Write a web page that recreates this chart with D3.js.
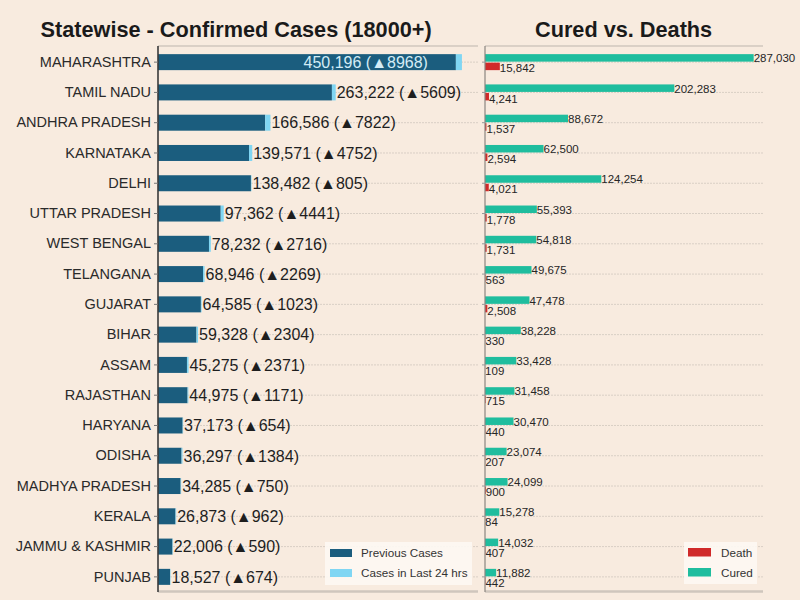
<!DOCTYPE html>
<html>
<head>
<meta charset="utf-8">
<script src="https://cdn.jsdelivr.net/npm/d3@7"></script>
<style>
  html, body { margin: 0; padding: 0; background: #f8ebdf; }
  svg { display: block; font-family: "Liberation Sans", Arial, sans-serif; }
</style>
</head>
<body>
<svg id="chart" width="800" height="600"></svg>
<script>
const states = ["MAHARASHTRA","TAMIL NADU","ANDHRA PRADESH","KARNATAKA","DELHI","UTTAR PRADESH","WEST BENGAL","TELANGANA","GUJARAT","BIHAR","ASSAM","RAJASTHAN","HARYANA","ODISHA","MADHYA PRADESH","KERALA","JAMMU & KASHMIR","PUNJAB"];
const totalCases = [450196,263222,166586,139571,138482,97362,78232,68946,64585,59328,45275,44975,37173,36297,34285,26873,22006,18527];
const newCases = [8968,5609,7822,4752,805,4441,2716,2269,1023,2304,2371,1171,654,1384,750,962,590,674];
const cured = [287030,202283,88672,62500,124254,55393,54818,49675,47478,38228,33428,31458,30470,23074,24099,15278,14032,11882];
const deaths = [15842,4241,1537,2594,4021,1778,1731,563,2508,330,109,715,440,207,900,84,407,442];
const leftTitle = "Statewise - Confirmed Cases (18000+)";
const rightTitle = "Cured vs. Deaths";
const leftLegend = ["Previous Cases","Cases in Last 24 hrs"];
const rightLegend = ["Death","Cured"];

const C = { dark: "#1b5d7e", light: "#80d6f3", cured: "#1fbd9e", death: "#d02a2a", bg: "#f8ebdf" };
const svg = d3.select("#chart");
svg.append("rect").attr("width",800).attr("height",600).attr("fill",C.bg);

const fmt = d3.format(",");
const y = d3.scaleBand().domain(states).range([47, 592]);
const yc = s => y(s) + y.bandwidth()/2;
const rows = states.map((s,i)=>({s, total: totalCases[i], delta: newCases[i], cured: cured[i], death: deaths[i]}));

// ---------- LEFT PANEL ----------
const xL = d3.scaleLinear().domain([0, 474000]).range([158, 478]);
const gL = svg.append("g");
// top & bottom frame
gL.append("line").attr("x1",158).attr("x2",478).attr("y1",46).attr("y2",46).attr("stroke","#bdb5ad").attr("stroke-width",1);
gL.append("line").attr("x1",158).attr("x2",478).attr("y1",591.5).attr("y2",591.5).attr("stroke","#cfc6bd").attr("stroke-width",2.5);
// gridlines
gL.selectAll(".grid").data(rows).enter().append("line")
  .attr("x1",158).attr("x2",478).attr("y1",d=>yc(d.s)).attr("y2",d=>yc(d.s))
  .attr("stroke","#d9cfc5").attr("stroke-dasharray","2,1").attr("stroke-width",1);
const bh = 16;
gL.selectAll(".prev").data(rows).enter().append("rect")
  .attr("x",xL(0)).attr("y",d=>yc(d.s)-bh/2).attr("height",bh)
  .attr("width",d=>xL(d.total-d.delta)-xL(0)).attr("fill",C.dark);
gL.selectAll(".new").data(rows).enter().append("rect")
  .attr("x",d=>xL(d.total-d.delta)).attr("y",d=>yc(d.s)-bh/2).attr("height",bh)
  .attr("width",d=>xL(d.total)-xL(d.total-d.delta)).attr("fill",C.light);
// value labels
gL.selectAll(".val").data(rows).enter().append("text")
  .attr("x",(d,i)=> i===0 ? xL(d.total)-34 : xL(d.total)+1)
  .attr("y",d=>yc(d.s)).attr("dy","0.36em")
  .attr("text-anchor",(d,i)=> i===0 ? "end" : "start")
  .attr("font-size","16px").attr("fill",(d,i)=> i===0 ? "#d3ecf6" : "#1e1e1e")
  .text(d=>`${fmt(d.total)} (\u25B2${d.delta})`);
// axis
const axL = gL.append("g").attr("transform","translate(158,0)")
  .call(d3.axisLeft(y).tickSize(4).tickPadding(3));
axL.select(".domain").attr("stroke","#3a3a3a").attr("stroke-width",1.6).attr("d","M0,46V592");
axL.selectAll(".tick line").attr("stroke","#777");
axL.selectAll(".tick text").attr("font-size","14.5px").attr("fill","#2a2a2a")
  .attr("font-family","'Liberation Sans', Arial, sans-serif");
// title
svg.append("text").attr("x",40.5).attr("y",37).attr("font-size","21.7px").attr("font-weight","bold")
  .attr("fill","#1a1a1a").text(leftTitle);
// legend
const lgL = svg.append("g");
lgL.append("rect").attr("x",325).attr("y",542).attr("width",147).attr("height",43).attr("fill","#fdf8f3").attr("opacity",0.9);
[C.dark, C.light].forEach((c,i)=>{
  lgL.append("rect").attr("x",330).attr("y",549+i*20).attr("width",22).attr("height",8).attr("fill",c);
  lgL.append("text").attr("x",361).attr("y",553+i*20).attr("dy","0.36em").attr("font-size","11.7px")
    .attr("fill","#333").text(leftLegend[i]);
});

// ---------- RIGHT PANEL ----------
const xR = d3.scaleLinear().domain([0, 297000]).range([485, 763]);
const sub = d3.scaleBand().domain(["Cured","Death"]).range([-8, 8]).paddingInner(0.12);
const gR = svg.append("g");
gR.append("line").attr("x1",485).attr("x2",763).attr("y1",46).attr("y2",46).attr("stroke","#bdb5ad").attr("stroke-width",1);
gR.append("line").attr("x1",485).attr("x2",763).attr("y1",591.5).attr("y2",591.5).attr("stroke","#cfc6bd").attr("stroke-width",2.5);
gR.selectAll(".grid").data(rows).enter().append("line")
  .attr("x1",485).attr("x2",763).attr("y1",d=>yc(d.s)).attr("y2",d=>yc(d.s))
  .attr("stroke","#d9cfc5").attr("stroke-dasharray","2,1").attr("stroke-width",1);
gR.selectAll(".cured").data(rows).enter().append("rect")
  .attr("x",xR(0)).attr("y",d=>yc(d.s)+sub("Cured")).attr("height",sub.bandwidth())
  .attr("width",d=>xR(d.cured)-xR(0)).attr("fill",C.cured);
gR.selectAll(".death").data(rows).enter().append("rect")
  .attr("x",xR(0)).attr("y",d=>yc(d.s)+sub("Death")).attr("height",sub.bandwidth())
  .attr("width",d=>xR(d.death)-xR(0)).attr("fill",C.death);
gR.selectAll(".cl").data(rows).enter().append("text")
  .attr("x",d=>xR(d.cured)).attr("y",d=>yc(d.s)-4).attr("dy","0.36em")
  .attr("font-size","11.5px").attr("fill","#262626").text(d=>fmt(d.cured));
gR.selectAll(".dl").data(rows).enter().append("text")
  .attr("x",d=>xR(d.death)).attr("y",d=>yc(d.s)+6).attr("dy","0.36em")
  .attr("font-size","11.5px").attr("fill","#262626").text(d=>fmt(d.death));
const axR = gR.append("g").attr("transform","translate(485,0)")
  .call(d3.axisLeft(y).tickSize(3).tickFormat(""));
axR.select(".domain").attr("stroke","#8a8580").attr("stroke-width",1.2).attr("d","M0,46V592");
axR.selectAll(".tick line").attr("stroke","#999");
svg.append("text").attr("x",535).attr("y",37).attr("font-size","21.7px").attr("font-weight","bold")
  .attr("fill","#1a1a1a").text(rightTitle);
const lgR = svg.append("g");
lgR.append("rect").attr("x",684).attr("y",542).attr("width",73).attr("height",42).attr("fill","#fdf8f3").attr("opacity",0.9);
[C.death, C.cured].forEach((c,i)=>{
  lgR.append("rect").attr("x",688).attr("y",548+i*20).attr("width",23).attr("height",8.5).attr("fill",c);
  lgR.append("text").attr("x",721).attr("y",552.5+i*20).attr("dy","0.36em").attr("font-size","11.7px")
    .attr("fill","#333").text(rightLegend[i]);
});
</script>
</body>
</html>
